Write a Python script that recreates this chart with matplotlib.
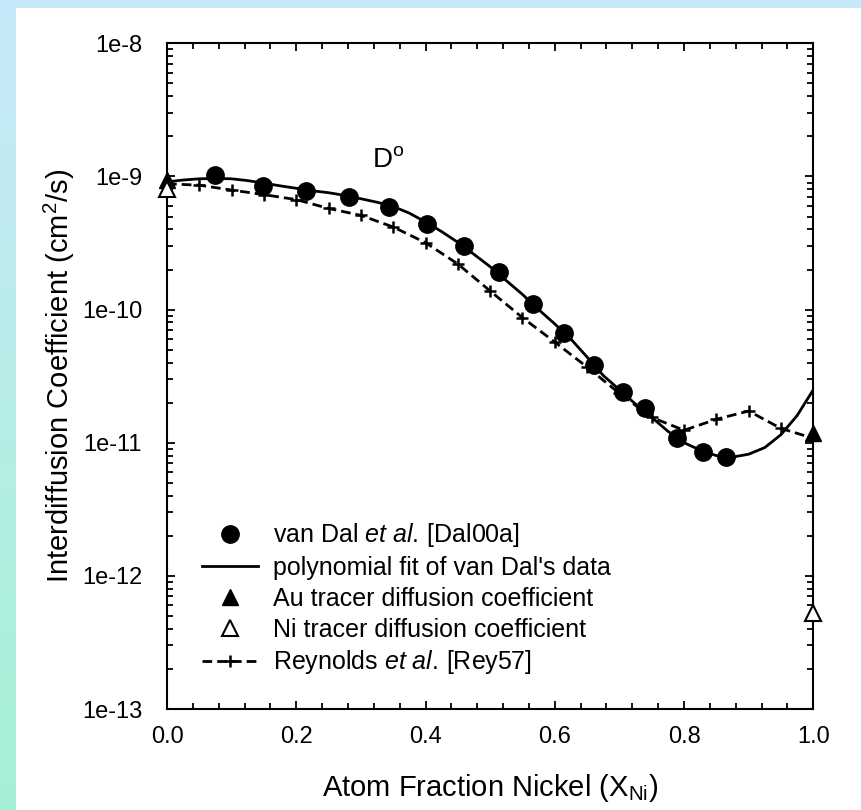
import numpy as np
import matplotlib
matplotlib.use("Agg")
import matplotlib.pyplot as plt
from matplotlib.ticker import FixedLocator, MultipleLocator, LogLocator, NullFormatter
from matplotlib.patches import Rectangle

plt.rcParams['font.family'] = ['Liberation Sans', 'DejaVu Sans']
plt.rcParams['mathtext.fontset'] = 'custom'
plt.rcParams['mathtext.rm'] = 'Liberation Sans'
plt.rcParams['mathtext.it'] = 'Liberation Sans:italic'

# ---- data ----
vandal_x = [0.074, 0.148, 0.215, 0.282, 0.344, 0.403, 0.460, 0.513, 0.566,
            0.614, 0.660, 0.705, 0.739, 0.789, 0.830, 0.865]
vandal_d = [1.03e-9, 8.5e-10, 7.76e-10, 6.97e-10, 5.9e-10, 4.38e-10, 3.0e-10,
            1.90e-10, 1.11e-10, 6.7e-11, 3.83e-11, 2.39e-11, 1.81e-11,
            1.08e-11, 8.55e-12, 7.83e-12]

fit_x = [0.0, 0.025, 0.05, 0.075, 0.1, 0.125, 0.15, 0.175, 0.2, 0.225, 0.25,
         0.275, 0.3, 0.325, 0.35, 0.375, 0.4, 0.425, 0.45, 0.475, 0.5, 0.525,
         0.55, 0.575, 0.6, 0.625, 0.65, 0.675, 0.7, 0.725, 0.75, 0.775, 0.8,
         0.825, 0.85, 0.875, 0.9, 0.925, 0.95, 0.975, 1.0]
fit_d = [9.1e-10, 9.4e-10, 9.6e-10, 9.65e-10, 9.6e-10, 9.3e-10, 8.9e-10,
         8.5e-10, 8.15e-10, 7.8e-10, 7.55e-10, 7.2e-10, 6.8e-10, 6.4e-10,
         5.95e-10, 5.3e-10, 4.55e-10, 3.85e-10, 3.2e-10, 2.6e-10, 2.1e-10,
         1.65e-10, 1.3e-10, 1.0e-10, 7.8e-11, 6.0e-11, 4.4e-11, 3.2e-11,
         2.5e-11, 1.95e-11, 1.55e-11, 1.22e-11, 1.0e-11, 8.8e-12, 8.0e-12,
         7.8e-12, 8.2e-12, 9.2e-12, 1.15e-11, 1.6e-11, 2.5e-11]

au_x = [0.0, 1.0]
au_d = [9.4e-10, 1.18e-11]
ni_x = [0.0, 1.0]
ni_d = [8.0e-10, 5.3e-13]

rey_x = [0.0, 0.05, 0.10, 0.15, 0.20, 0.25, 0.30, 0.35, 0.40, 0.45, 0.50,
         0.55, 0.60, 0.65, 0.70, 0.75, 0.80, 0.85, 0.90, 0.95, 1.00]
rey_d = [8.8e-10, 8.6e-10, 7.9e-10, 7.3e-10, 6.7e-10, 5.75e-10, 5.1e-10,
         4.17e-10, 3.18e-10, 2.2e-10, 1.38e-10, 8.7e-11, 5.7e-11, 3.7e-11,
         2.35e-11, 1.55e-11, 1.24e-11, 1.50e-11, 1.73e-11, 1.28e-11, 1.08e-11]

xtick_vals = [0.0, 0.2, 0.4, 0.6, 0.8, 1.0]
xtick_labels = ['0.0', '0.2', '0.4', '0.6', '0.8', '1.0']
ytick_vals = [1e-13, 1e-12, 1e-11, 1e-10, 1e-9, 1e-8]
ytick_labels = ['1e-13', '1e-12', '1e-11', '1e-10', '1e-9', '1e-8']

labels = ['van Dal $\\mathit{et\\ al.}\\,$[Dal00a]',
          "polynomial fit of van Dal's data",
          'Au tracer diffusion coefficient',
          'Ni tracer diffusion coefficient',
          'Reynolds $\\mathit{et\\ al.}\\,$[Rey57]']

# ---- figure ----
W, H = 861, 810
fig = plt.figure(figsize=(W / 100, H / 100), dpi=100)

# background gradient + white panel
bg = fig.add_axes([0, 0, 1, 1], zorder=-10)
top = np.array([199, 233, 250]) / 255.0
bot = np.array([166, 240, 212]) / 255.0
t = np.linspace(0, 1, 256)[:, None]
grad = (top[None, :] * (1 - t) + bot[None, :] * t)[:, None, :]
bg.imshow(grad, aspect='auto', extent=[0, 1, 0, 1], origin='upper')
bg.add_patch(Rectangle((16 / W, 0), 1, 1 - 8 / H, transform=bg.transAxes,
                       facecolor='white', edgecolor='none'))
bg.set_xlim(0, 1)
bg.set_ylim(0, 1)
bg.axis('off')

ax = fig.add_axes([167 / W, 1 - 709 / H, (813.3 - 167) / W, (709 - 43.3) / H])
ax.set_facecolor('none')
ax.set_yscale('log')
ax.set_xlim(0, 1)
ax.set_ylim(1e-13, 1e-8)

ax.plot(fit_x, fit_d, color='black', lw=2.0, zorder=3, label=labels[1])
l_rey, = ax.plot(rey_x, rey_d, color='black', lw=2.0, ls='--', marker='+',
                 ms=8, mew=1.8, zorder=3, label=labels[4])
l_rey.set_dashes((3.5, 1.8))
ax.plot(vandal_x, vandal_d, 'o', color='black', ms=12.5, zorder=4,
        label=labels[0], linestyle='none')
ax.plot(au_x, au_d, '^', color='black', ms=11, zorder=5, linestyle='none',
        label=labels[2], clip_on=False)
ax.plot(ni_x, ni_d, '^', markerfacecolor='white', markeredgecolor='black',
        mew=1.5, ms=11, zorder=5, linestyle='none', label=labels[3],
        clip_on=False)

ax.text(0.342, 1.33e-9, 'D$^{\\rm o}$', fontsize=20, ha='center', va='center')

# ticks
ax.xaxis.set_major_locator(FixedLocator(xtick_vals))
ax.set_xticklabels(xtick_labels)
ax.xaxis.set_minor_locator(MultipleLocator(0.04))
ax.yaxis.set_major_locator(FixedLocator(ytick_vals))
ax.set_yticklabels(ytick_labels)
ax.yaxis.set_minor_locator(LogLocator(base=10, subs=np.arange(2, 10), numticks=20))
ax.yaxis.set_minor_formatter(NullFormatter())
ax.tick_params(which='both', direction='in', top=True, right=True,
               width=1.3, colors='black', labelsize=17)
ax.tick_params(which='major', length=6)
ax.tick_params(which='minor', length=4)
ax.tick_params(axis='y', which='both', pad=18)
ax.tick_params(axis='x', which='both', pad=12)
for s in ax.spines.values():
    s.set_linewidth(1.5)

ax.set_xlabel('Atom Fraction Nickel (X$_{\\rm Ni}$)', fontsize=21)
ax.set_ylabel('Interdiffusion Coefficient (cm$^2$/s)', fontsize=21)
ax.xaxis.set_label_coords(0.5, -0.094)
ax.yaxis.set_label_coords(-0.140, 0.5)

handles, labs = ax.get_legend_handles_labels()
order = [labs.index(l) for l in labels]
leg = ax.legend([handles[i] for i in order], [labs[i] for i in order],
                loc='lower left', bbox_to_anchor=(0.054, 0.049),
                frameon=False, fontsize=18, numpoints=1, handlelength=2.24,
                handletextpad=0.6, labelspacing=0.27, borderpad=0,
                borderaxespad=0)

fig.savefig('out.png', dpi=100)
